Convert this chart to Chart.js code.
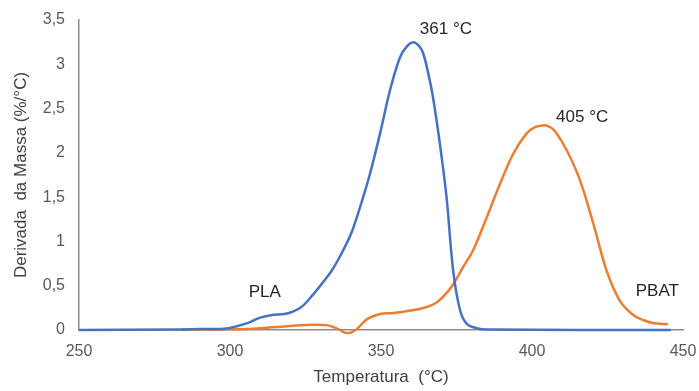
<!DOCTYPE html>
<html>
<head>
<meta charset="utf-8">
<script src="https://cdn.jsdelivr.net/npm/chart.js"></script>
<style>
    body { margin: 0; background: #ffffff; }
    #contenedor { width: 699px; height: 391px; }
</style>
</head>
<body>
<div id="contenedor">
    <canvas id="graficoDTG" width="699" height="391"></canvas>
</div>
<script>
const temperaturaPLA = [250, 283, 290, 298, 302, 306, 310, 314, 318, 321, 324, 327.5, 330.8, 333.5, 336.4, 340, 343, 346.4, 349.7, 353, 356.3, 358.5, 360.7, 362.5, 363.9, 365.5, 367.2, 369.5, 371.7, 373.9, 376.2, 378.4, 381.7, 385, 446];
const derivadaPLA = [0, 0.005, 0.01, 0.015, 0.04, 0.08, 0.14, 0.17, 0.18, 0.21, 0.27, 0.4, 0.54, 0.66, 0.83, 1.08, 1.38, 1.77, 2.22, 2.71, 3.08, 3.2, 3.25, 3.21, 3.13, 2.92, 2.63, 2.1, 1.5, 0.67, 0.22, 0.07, 0.02, 0.005, 0];

const temperaturaPBAT = [284, 295, 305, 310, 314, 318, 323, 328, 332, 334.5, 336.5, 338, 340, 342, 345.3, 349.7, 353, 356.3, 360, 363, 366, 368.4, 371, 374, 377, 380.5, 385, 389.4, 393.8, 398.2, 401, 403.5, 405.5, 407.5, 411.5, 415.9, 420.3, 424.7, 429.1, 433.5, 437, 440, 445];
const derivadaPBAT = [0.005, 0.005, 0.01, 0.02, 0.03, 0.04, 0.055, 0.06, 0.055, 0.03, 0, -0.03, -0.03, 0.01, 0.12, 0.18, 0.19, 0.2, 0.22, 0.24, 0.27, 0.31, 0.39, 0.52, 0.7, 0.9, 1.27, 1.65, 1.99, 2.22, 2.29, 2.31, 2.3, 2.25, 2.03, 1.69, 1.2, 0.67, 0.33, 0.17, 0.11, 0.08, 0.065];

// Textos sobre el gráfico (temperatura, derivada)
const etiquetas = ['361 °C', '405 °C', 'PLA', 'PBAT'];
const etiquetasX = [371.5, 416.6, 311.5, 441.5];
const etiquetasY = [3.39, 2.40, 0.43, 0.44];

const fuente = 'Arial, "Liberation Sans", sans-serif';

function aPuntos(xs, ys) {
    return xs.map((x, i) => ({ x: x, y: ys[i] }));
}

const pluginEtiquetas = {
    id: 'etiquetas',
    afterDatasetsDraw(chart) {
        const ctx = chart.ctx;
        ctx.save();
        ctx.font = '17px ' + fuente;
        ctx.fillStyle = '#262626';
        ctx.textAlign = 'center';
        ctx.textBaseline = 'middle';
        etiquetas.forEach((texto, i) => {
            const px = chart.scales.x.getPixelForValue(etiquetasX[i]);
            const py = chart.scales.y.getPixelForValue(etiquetasY[i]);
            ctx.fillText(texto, px, py);
        });
        ctx.restore();
    }
};

const ctx = document.getElementById('graficoDTG').getContext('2d');

new Chart(ctx, {
    type: 'line',
    data: {
        datasets: [
            {
                label: 'PLA',
                data: aPuntos(temperaturaPLA, derivadaPLA),
                borderColor: '#4472C4',
                borderWidth: 2.5,
                pointRadius: 0,
                tension: 0.35,
                fill: false,
                clip: 4
            },
            {
                label: 'PBAT',
                data: aPuntos(temperaturaPBAT, derivadaPBAT),
                borderColor: '#ED7D31',
                borderWidth: 2.5,
                pointRadius: 0,
                tension: 0.35,
                fill: false,
                clip: 4
            }
        ]
    },
    options: {
        responsive: false,
        animation: false,
        layout: {
            padding: { left: 0, right: 16, top: 20, bottom: 0 }
        },
        plugins: {
            legend: { display: false },
            tooltip: { enabled: false }
        },
        scales: {
            x: {
                type: 'linear',
                min: 250,
                max: 450,
                grid: { display: false, drawTicks: false },
                border: { display: true, color: '#8c8c8c', width: 1.5 },
                ticks: {
                    stepSize: 50,
                    padding: 12,
                    color: '#595959',
                    font: { family: fuente, size: 16 }
                },
                title: {
                    display: true,
                    text: 'Temperatura  (°C)',
                    color: '#404040',
                    font: { family: fuente, size: 17 },
                    padding: { top: 0, bottom: 3 }
                },
                afterFit: function(scale) {
                    scale.height = 61;
                    scale.paddingLeft = 0;
                    scale.paddingRight = 0;
                }
            },
            y: {
                min: 0,
                max: 3.5,
                grid: { display: false, drawTicks: false },
                border: { display: true, color: '#8c8c8c', width: 1.5 },
                ticks: {
                    stepSize: 0.5,
                    padding: 14,
                    color: '#595959',
                    font: { family: fuente, size: 16 },
                    callback: function(value) {
                        return String(value).replace('.', ',');
                    }
                },
                title: {
                    display: true,
                    text: 'Derivada  da Massa (%/°C)',
                    color: '#404040',
                    font: { family: fuente, size: 17 },
                    padding: { top: 11, bottom: 0 }
                },
                afterFit: function(scale) {
                    scale.width = 79;
                    scale.paddingTop = 0;
                    scale.paddingBottom = 0;
                }
            }
        }
    },
    plugins: [pluginEtiquetas]
});
</script>
</body>
</html>
